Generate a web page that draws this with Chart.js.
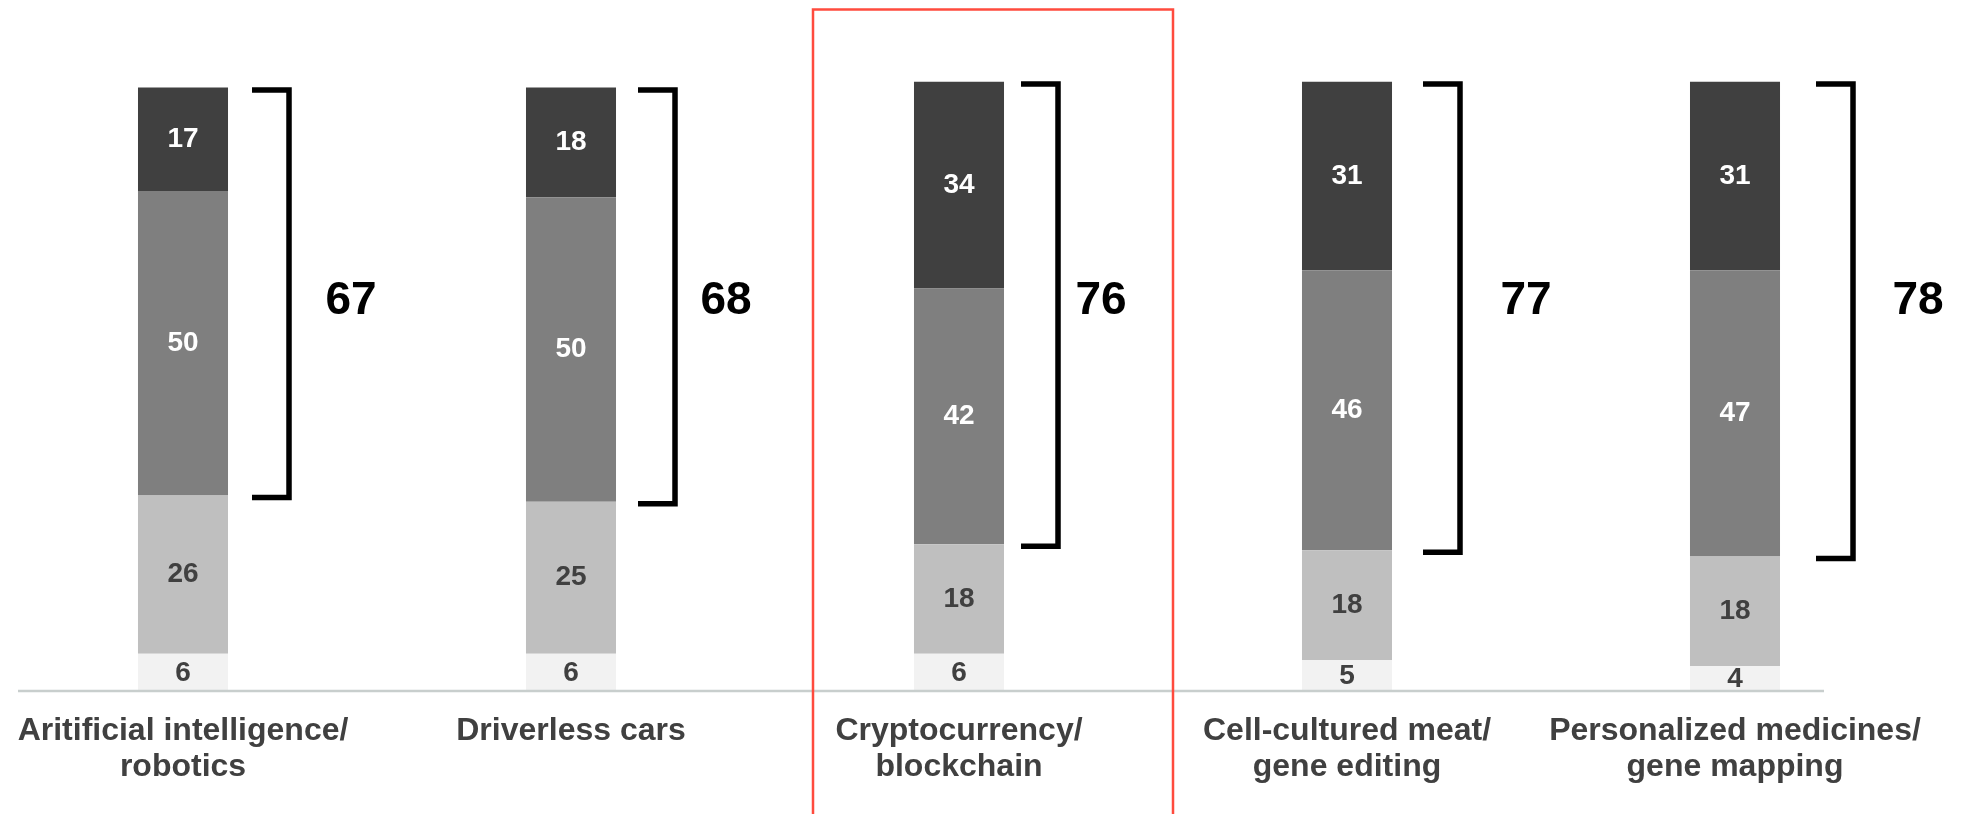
<!DOCTYPE html>
<html>
<head>
<meta charset="utf-8">
<script src="https://cdn.jsdelivr.net/npm/chart.js@4/dist/chart.umd.min.js"></script>
<style>
    html, body { margin: 0; padding: 0; background: #fff; overflow: hidden; }
    #wrap { position: absolute; left: -11px; top: 0; width: 1985px; height: 814px; }
</style>
</head>
<body>
<div id="wrap"><canvas id="chartTech"></canvas></div>
<script>
// Datos
const categories = [
    ['Aritificial intelligence/', 'robotics'],
    ['Driverless cars'],
    ['Cryptocurrency/', 'blockchain'],
    ['Cell-cultured meat/', 'gene editing'],
    ['Personalized medicines/', 'gene mapping']
];
const seriesBottom = [6, 6, 6, 5, 4];
const seriesLow = [26, 25, 18, 18, 18];
const seriesMid = [50, 50, 42, 46, 47];
const seriesTop = [17, 18, 34, 31, 31];
const highlightIndex = 2;

// Ajustes de posicion de las llaves (px desde el borde derecho de la barra)
const bracketGap = [24, 22, 17, 31, 36];
const totalGap = [65, 54, 46, 69, 68];

document.addEventListener('DOMContentLoaded', function() {
    const fontFamily = "'Liberation Sans', Arial, sans-serif";
    const darkText = '#404040';

    const overlay = {
        id: 'overlay',
        afterDatasetsDraw(chart) {
            const ctx = chart.ctx;
            const yScale = chart.scales.y;
            const y0 = yScale.getPixelForValue(0);
            ctx.save();

            // Linea base
            const firstBar = chart.getDatasetMeta(0).data[0];
            const lastBar = chart.getDatasetMeta(0).data[categories.length - 1];
            ctx.strokeStyle = '#c8cecd';
            ctx.lineWidth = 2.5;
            ctx.beginPath();
            ctx.moveTo(firstBar.x - firstBar.width / 2 - 120, y0 + 0.5);
            ctx.lineTo(lastBar.x + lastBar.width / 2 + 44, y0 + 0.5);
            ctx.stroke();

            // Etiquetas dentro de cada segmento
            const labelColors = [darkText, darkText, '#ffffff', '#ffffff'];
            ctx.font = `bold 28px ${fontFamily}`;
            ctx.textAlign = 'center';
            ctx.textBaseline = 'middle';
            chart.data.datasets.forEach((ds, di) => {
                const meta = chart.getDatasetMeta(di);
                meta.data.forEach((bar, i) => {
                    ctx.fillStyle = labelColors[di];
                    const cy = (bar.y + bar.base) / 2;
                    ctx.fillText(String(ds.data[i]), bar.x, cy + (di === 0 ? 1 : 0));
                });
            });

            // Llaves y totales (dos segmentos superiores)
            const metaTop = chart.getDatasetMeta(3);
            metaTop.data.forEach((bar, i) => {
                const total = seriesMid[i] + seriesTop[i];
                const yTop = yScale.getPixelForValue(seriesBottom[i] + seriesLow[i] + total);
                const yBot = yScale.getPixelForValue(seriesBottom[i] + seriesLow[i]);
                const xStart = bar.x + bar.width / 2 + bracketGap[i];
                const xLine = xStart + 37;
                ctx.strokeStyle = '#000';
                ctx.lineWidth = 5.5;
                ctx.lineJoin = 'miter';
                ctx.beginPath();
                ctx.moveTo(xStart, yTop + 2.5);
                ctx.lineTo(xLine, yTop + 2.5);
                ctx.lineTo(xLine, yBot + 2);
                ctx.lineTo(xStart, yBot + 2);
                ctx.stroke();

                ctx.fillStyle = '#000';
                ctx.font = `bold 46px ${fontFamily}`;
                ctx.textAlign = 'center';
                ctx.textBaseline = 'middle';
                ctx.fillText(String(total), xLine + totalGap[i] - 3, yScale.getPixelForValue(64.2) + 2);
            });

            // Recuadro rojo en la categoria destacada
            const hb = metaTop.data[highlightIndex];
            ctx.strokeStyle = '#ff4b3e';
            ctx.lineWidth = 2.5;
            ctx.strokeRect(hb.x - 146, 9.5, 360, 900);

            // Texto cortado en el borde izquierdo
            ctx.fillStyle = darkText;
            ctx.font = `bold 26px ${fontFamily}`;
            ctx.textAlign = 'right';
            ctx.textBaseline = 'alphabetic';
            ctx.fillText(':', 13.5, 580);

            ctx.restore();
        }
    };

    const ctxBar = document.getElementById('chartTech').getContext('2d');
    new Chart(ctxBar, {
        type: 'bar',
        data: {
            labels: categories,
            datasets: [
                { data: seriesBottom, backgroundColor: '#f2f2f2' },
                { data: seriesLow, backgroundColor: '#bfbfbf' },
                { data: seriesMid, backgroundColor: '#7f7f7f' },
                { data: seriesTop, backgroundColor: '#404040' }
            ]
        },
        options: {
            responsive: true,
            maintainAspectRatio: false,
            animation: false,
            layout: { padding: { top: 81.5, right: 45, bottom: 6, left: 0 } },
            datasets: {
                bar: { categoryPercentage: 1, barPercentage: 0.232, borderWidth: 0 }
            },
            plugins: {
                legend: { display: false },
                tooltip: { enabled: false }
            },
            scales: {
                x: {
                    stacked: true,
                    grid: { display: false, drawTicks: false },
                    border: { display: false },
                    ticks: {
                        autoSkip: false,
                        maxRotation: 0,
                        padding: 22,
                        color: darkText,
                        font: { family: fontFamily, size: 32, weight: 'bold', lineHeight: 1.15 }
                    }
                },
                y: {
                    stacked: true,
                    display: false,
                    min: 0,
                    max: 100
                }
            }
        },
        plugins: [overlay]
    });
});
</script>
</body>
</html>
